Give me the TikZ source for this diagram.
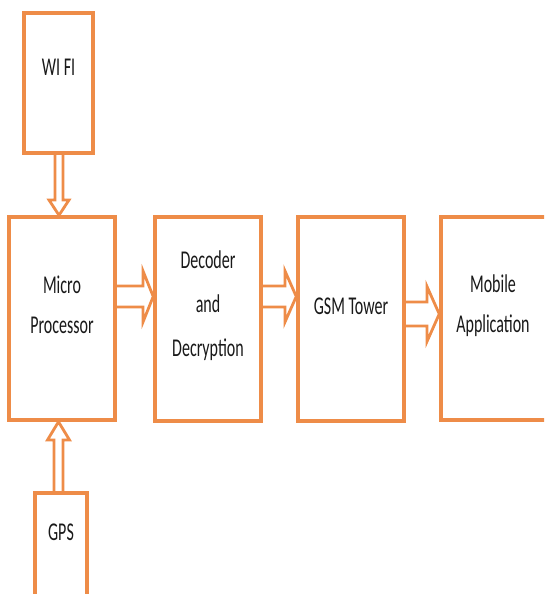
\documentclass[tikz,border=0pt]{standalone}
\usepackage{graphicx}
\usepackage{fontspec}
\setmainfont{Carlito}
\definecolor{boxorange}{RGB}{238,140,72}
\definecolor{txt}{RGB}{25,25,25}
\newcommand{\tallt}[1]{\scalebox{1}[1.6]{#1}}
\begin{document}
\begin{tikzpicture}[x=1pt,y=1pt,
  blk/.style={draw=boxorange,line width=3.5pt,rectangle,inner sep=0pt,fill=white},
  lbl/.style={text=txt,align=center,font=\fontsize{16}{42}\selectfont,inner sep=0pt},
  arr/.style={draw=boxorange,line width=2.8pt,line join=miter}]
\clip (0,0) rectangle (544,594);
\fill[white] (0,0) rectangle (544,594);
% boxes
\node[blk,minimum width=69pt,minimum height=140pt] (wifi) at (58.5,511) {};
\node[blk,minimum width=106pt,minimum height=203pt] (micro) at (62,275.5) {};
\node[blk,minimum width=106pt,minimum height=204pt] (dec) at (208,275) {};
\node[blk,minimum width=106pt,minimum height=204pt] (gsm) at (351,275) {};
\node[blk,minimum width=109pt,minimum height=203pt] (mob) at (495.5,275.5) {};
\node[blk,minimum width=52pt,minimum height=110pt] (gps) at (61,46) {};
% texts
\node[lbl] (wifit) at (58.5,527) {\tallt{WI FI}};
\node[lbl,font=\fontsize{16}{40}\selectfont] (microt) at (62,289) {\tallt{Micro}\\\tallt{Processor}};
\node[lbl,font=\fontsize{16}{44}\selectfont] (dect) at (208,288) {\tallt{Decoder}\\\tallt{and}\\\tallt{Decryption}};
\node[lbl] (gsmt) at (351,288) {\tallt{GSM Tower}};
\node[lbl,font=\fontsize{16}{40}\selectfont] (mobt) at (493,288) {\tallt{Mobile}\\\tallt{Application}};
\node[lbl] (gpst) at (61,62) {\tallt{GPS}};
% arrows
\draw[arr] (wifi.south -| 55,0) -- (55,394) -- (49,394) -- (micro.north -| 59,0) -- (69,394) -- (63,394) -- (wifi.south -| 63,0);
\draw[arr] (gps.north -| 54,0) -- (54,154) -- (47.5,154) -- (micro.south -| 58.5,0) -- (69.5,154) -- (63,154) -- (gps.north -| 63,0);
\draw[arr] (micro.east |- 0,308) -- (143,308) -- (143,323) -- (dec.west |- 0,297.5) -- (143,272) -- (143,287) -- (micro.east |- 0,287);
\draw[arr] (dec.east |- 0,308) -- (285,308) -- (285,323) -- (gsm.west |- 0,297.5) -- (285,272) -- (285,287) -- (dec.east |- 0,287);
\draw[arr] (gsm.east |- 0,292) -- (427,292) -- (427,307.5) -- (mob.west |- 0,280) -- (427,252.5) -- (427,268) -- (gsm.east |- 0,268);
\end{tikzpicture}
\end{document}
